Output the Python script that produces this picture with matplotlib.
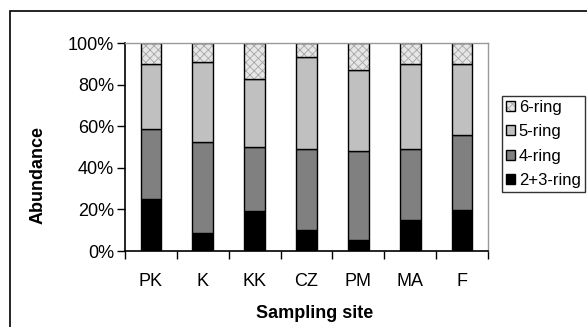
import numpy as np
import matplotlib.pyplot as plt
from matplotlib.patches import Rectangle

plt.rcParams['font.family'] = ['Liberation Sans', 'DejaVu Sans']
plt.rcParams['hatch.linewidth'] = 0.6

sites = ['PK', 'K', 'KK', 'CZ', 'PM', 'MA', 'F']
ring23 = [25.2, 8.8, 19.2, 9.9, 5.4, 15.1, 19.9]
ring4 = [33.5, 43.6, 30.8, 39.0, 42.8, 33.8, 36.0]
ring5 = [31.0, 38.5, 32.7, 44.4, 39.0, 41.0, 33.8]
ring6 = [10.3, 9.1, 17.3, 6.7, 12.8, 10.1, 10.3]

W, H = 587, 327
fig = plt.figure(figsize=(W / 100, H / 100), dpi=100)
ax = fig.add_axes([125 / W, 1 - 251 / H, (488 - 125) / W, (251 - 43) / H])

x = np.arange(len(sites))
bw = 0.4
b1 = ax.bar(x, ring23, bw, color='black', edgecolor='black', lw=1, label='2+3-ring')
b2 = ax.bar(x, ring4, bw, bottom=ring23, color='#808080', edgecolor='black', lw=1, label='4-ring')
bot = np.array(ring23) + np.array(ring4)
b3 = ax.bar(x, ring5, bw, bottom=bot, color='#c0c0c0', edgecolor='black', lw=1, label='5-ring')
bot = bot + np.array(ring5)
b4 = ax.bar(x, ring6, bw, bottom=bot, color='#e6e6e6', edgecolor='black', lw=1,
            hatch='xxxx', label='6-ring')
for p in b4:
    p._hatch_color = (0.65, 0.65, 0.65, 1)

ax.set_xlim(-0.5, 6.5)
ax.set_ylim(0, 100)
ax.set_yticks([0, 20, 40, 60, 80, 100])
ax.set_yticklabels([f'{v}%' for v in [0, 20, 40, 60, 80, 100]], fontsize=13)
ax.set_xticks(np.arange(-0.5, 7, 1))
ax.set_xticklabels([])
ax.set_xticks(x, minor=True)
ax.set_xticklabels(sites, minor=True, fontsize=13)
ax.tick_params(axis='x', which='minor', length=0, pad=16)
ax.tick_params(axis='x', which='major', length=6, width=1, direction='out')
ax.tick_params(axis='y', length=6, width=1, direction='out', pad=2)
for s in ['top', 'right']:
    ax.spines[s].set_color('#999999')
    ax.spines[s].set_linewidth(1)
for s in ['left', 'bottom']:
    ax.spines[s].set_linewidth(1.2)

fig.text(38 / W, 1 - 175 / H, 'Abundance', rotation=90, ha='center', va='center',
         fontsize=13, fontweight='bold')
fig.text(315 / W, 1 - 313 / H, 'Sampling site', ha='center', va='center',
         fontsize=13, fontweight='bold')

leg = fig.legend([b4, b3, b2, b1], ['6-ring', '5-ring', '4-ring', '2+3-ring'],
                 loc='upper left', bbox_to_anchor=(502 / W, 1 - 96 / H),
                 fontsize=12, frameon=True, fancybox=False, edgecolor='black',
                 handlelength=0.55, handleheight=0.55, handletextpad=0.2,
                 labelspacing=0.55, borderpad=0.25, borderaxespad=0)
leg.get_frame().set_linewidth(1)

fig.patches.append(Rectangle((10 / W, -0.1), 1.1, 1 - 11 / H + 0.1, transform=fig.transFigure,
                             fill=False, edgecolor='black', lw=1.2))

fig.savefig('out.png', dpi=100)
